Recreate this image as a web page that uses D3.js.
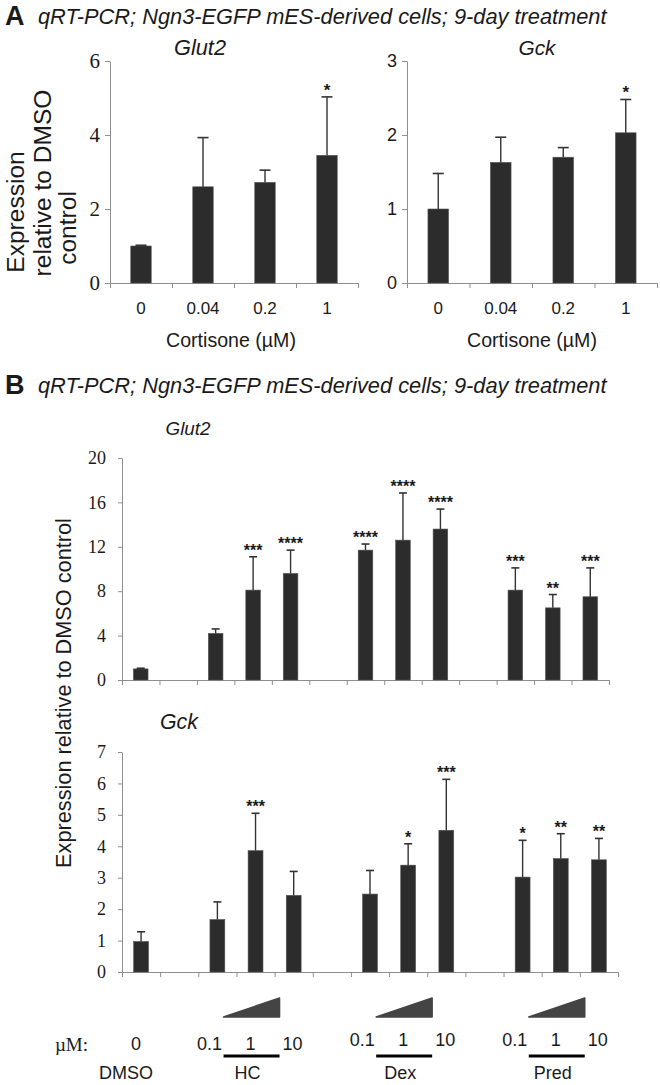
<!DOCTYPE html>
<html>
<head>
<meta charset="utf-8">
<script src="https://cdn.jsdelivr.net/npm/d3@7"></script>
<style>
html,body{margin:0;padding:0;background:#fff;}
text{fill:#1a1a1a;}
</style>
</head>
<body>
<svg id="chart" width="660" height="1085"></svg>
<script>
// ---------------- DATA ----------------
const aCategories = ["0", "0.04", "0.2", "1"];
const aGlut2 = [1.0, 2.6, 2.72, 3.45];
const aGlut2Err = [0.02, 1.33, 0.33, 1.58];
const aGlut2Sig = ["", "", "", "*"];
const aGlut2Ticks = [0, 2, 4, 6];
const aGck = [1.0, 1.63, 1.7, 2.03];
const aGckErr = [0.48, 0.34, 0.13, 0.45];
const aGckSig = ["", "", "", "*"];
const aGckTicks = [0, 1, 2, 3];

const bCategories = ["DMSO", "gap1", "HC 0.1", "HC 1", "HC 10", "gap2", "Dex 0.1", "Dex 1", "Dex 10", "gap3", "Pred 0.1", "Pred 1", "Pred 10"];
const bGlut2 = [1.0, null, 4.2, 8.1, 9.6, null, 11.7, 12.6, 13.6, null, 8.1, 6.5, 7.5];
const bGlut2Err = [0.06, null, 0.4, 3.0, 2.1, null, 0.55, 4.25, 1.8, null, 2.0, 1.2, 2.6];
const bGlut2Sig = ["", "", "", "***", "****", "", "****", "****", "****", "", "***", "**", "***"];
const bGlut2Ticks = [0, 4, 8, 12, 16, 20];
const bGck = [0.97, null, 1.67, 3.86, 2.44, null, 2.48, 3.4, 4.51, null, 3.02, 3.61, 3.57];
const bGckErr = [0.31, null, 0.56, 1.19, 0.76, null, 0.75, 0.68, 1.62, null, 1.17, 0.79, 0.68];
const bGckSig = ["", "", "", "***", "", "", "", "*", "***", "", "*", "**", "**"];
const bGckTicks = [0, 1, 2, 3, 4, 5, 6, 7];

const groupNames = ["DMSO", "HC", "Dex", "Pred"];
const groupCenterCats = ["DMSO", "HC 1", "Dex 1", "Pred 1"];
const doseLabels = ["0.1", "1", "10"];
const dmsoDose = "0";
const doseUnit = "µM:";

const titleText = "qRT-PCR; Ngn3-EGFP mES-derived cells; 9-day treatment";

// ---------------- HELPERS ----------------
const svg = d3.select("#chart");
const SANS = "'Liberation Sans', Arial, sans-serif";
const SERIF = "'Liberation Serif', 'Times New Roman', serif";
const AXIS = "#8f8f8f";
const BAR = "#2c2c2c";

function fit(sel, w) {
  const n = sel.node();
  const cur = n.getComputedTextLength();
  const fs = parseFloat(sel.style("font-size"));
  sel.style("font-size", (fs * w / cur) + "px");
  return sel;
}

function txt(x, y, s, o = {}) {
  const t = svg.append("text")
    .attr("x", x).attr("y", y)
    .attr("text-anchor", o.anchor || "middle")
    .attr("dominant-baseline", o.baseline || "central")
    .style("font-family", o.family || SANS)
    .style("font-size", (o.size || 17) + "px")
    .style("font-style", o.italic ? "italic" : "normal")
    .style("font-weight", o.bold ? "bold" : "normal")
    .text(s);
  if (o.rotate) t.attr("transform", `rotate(${o.rotate},${x},${y})`);
  if (o.width) fit(t, o.width);
  return t;
}

function barChart(cfg) {
  const g = svg.append("g");
  const n = cfg.cats.length;
  const x = d3.scaleBand().domain(cfg.cats).range(cfg.xRange).padding(0);
  const xEdge = d3.scaleLinear().domain([0, n]).range(cfg.xRange);
  const y = d3.scaleLinear().domain(cfg.yDomain).range(cfg.yRange);
  const bw = x.bandwidth() * cfg.barFrac;

  // y axis
  const ya = g.append("g").attr("transform", `translate(${cfg.xRange[0]},0)`)
    .call(d3.axisLeft(y).tickValues(cfg.ticks).tickFormat(d3.format("d"))
      .tickSize(cfg.tickLen).tickSizeOuter(0).tickPadding(cfg.tickPad));
  ya.select(".domain").attr("stroke", AXIS);
  ya.selectAll(".tick line").attr("stroke", AXIS);
  ya.selectAll(".tick text").style("font-family", cfg.tickFamily).style("font-size", cfg.tickSize + "px").attr("fill", "#1a1a1a");

  // x axis with boundary ticks
  const xa = g.append("g").attr("transform", `translate(0,${cfg.yRange[0]})`)
    .call(d3.axisBottom(xEdge).tickValues(d3.range(n + 1)).tickFormat("").tickSize(5).tickSizeOuter(0));
  xa.select(".domain").attr("stroke", AXIS);
  xa.selectAll(".tick line").attr("stroke", AXIS);

  const data = cfg.cats.map((c, i) => ({ c, v: cfg.values[i], e: cfg.errs[i], s: cfg.sig[i] })).filter(d => d.v != null);

  // bars
  g.selectAll("rect.bar").data(data).enter().append("rect")
    .attr("class", "bar")
    .attr("x", d => x(d.c) + (x.bandwidth() - bw) / 2)
    .attr("width", bw)
    .attr("y", d => y(d.v))
    .attr("height", d => y(0) - y(d.v))
    .attr("fill", BAR).attr("stroke", "#555").attr("stroke-width", 0.6);

  // error bars (upper only)
  const cx = d => x(d.c) + x.bandwidth() / 2;
  g.selectAll("line.err").data(data).enter().append("line")
    .attr("x1", cx).attr("x2", cx)
    .attr("y1", d => y(d.v)).attr("y2", d => y(d.v + d.e))
    .attr("stroke", "#333").attr("stroke-width", 1.4);
  g.selectAll("line.cap").data(data).enter().append("line")
    .attr("x1", d => cx(d) - cfg.cap / 2).attr("x2", d => cx(d) + cfg.cap / 2)
    .attr("y1", d => y(d.v + d.e)).attr("y2", d => y(d.v + d.e))
    .attr("stroke", "#333").attr("stroke-width", 1.6);

  // significance stars
  g.selectAll("text.sig").data(data.filter(d => d.s)).enter().append("text")
    .attr("x", cx).attr("y", d => y(d.v + d.e) - cfg.starGap)
    .attr("text-anchor", "middle")
    .style("font-family", SANS).style("font-size", cfg.starSize + "px").style("font-weight", "bold")
    .text(d => d.s);

  return { x, y };
}

// ---------------- PANEL A ----------------
txt(5, 16, "A", { anchor: "start", size: 27, bold: true });
txt(38, 16, titleText, { anchor: "start", size: 20, italic: true, width: 569 });

const yTitleA = ["Expression", "relative to DMSO", "control"];
const tmp = txt(42, 183, yTitleA[1], { size: 19, rotate: -90, width: 187 });
const fsA = parseFloat(tmp.style("font-size"));
txt(15, 212, yTitleA[0], { size: fsA, rotate: -90 });
txt(67, 228, yTitleA[2], { size: fsA, rotate: -90 });

const aCommon = { cats: aCategories, yRange: [283, 61], barFrac: 0.33, tickLen: 5, cap: 11, starGap: 1, starSize: 17 };
const A1 = barChart(Object.assign({}, aCommon, {
  xRange: [110, 358], yDomain: [0, 6], values: aGlut2, errs: aGlut2Err, sig: aGlut2Sig,
  ticks: aGlut2Ticks, tickPad: 5, tickFamily: SERIF, tickSize: 21
}));
const A2 = barChart(Object.assign({}, aCommon, {
  xRange: [407, 657], yDomain: [0, 3], values: aGck, errs: aGckErr, sig: aGckSig,
  ticks: aGckTicks, tickPad: 5, tickFamily: SANS, tickSize: 18
}));
txt(200, 47, "Glut2", { size: 19, italic: true, width: 52 });
txt(537, 47, "Gck", { size: 19, italic: true, width: 37 });
[A1, A2].forEach(ch => {
  aCategories.forEach(c => txt(ch.x(c) + ch.x.bandwidth() / 2, 308, c, { size: 17 }));
});
txt(231, 340, "Cortisone (µM)", { size: 17, width: 130 });
txt(532, 340, "Cortisone (µM)", { size: 17, width: 130 });

// ---------------- PANEL B ----------------
txt(5, 385, "B", { anchor: "start", size: 27, bold: true });
txt(38, 385, titleText, { anchor: "start", size: 20, italic: true, width: 569 });
txt(63, 693, "Expression relative to DMSO control", { size: 19, rotate: -90, width: 350 });

const bCommon = { cats: bCategories, barFrac: 0.39, tickLen: 4, tickPad: 12, tickFamily: SERIF, tickSize: 18, cap: 8, starGap: 1, starSize: 16 };
const B1 = barChart(Object.assign({}, bCommon, {
  xRange: [122, 609], yRange: [680, 458], yDomain: [0, 20], values: bGlut2, errs: bGlut2Err, sig: bGlut2Sig, ticks: bGlut2Ticks
}));
const B2 = barChart(Object.assign({}, bCommon, {
  xRange: [122, 618], yRange: [972, 752], yDomain: [0, 7], values: bGck, errs: bGckErr, sig: bGckSig, ticks: bGckTicks
}));
txt(188, 428, "Glut2", { size: 19, italic: true, width: 45 });
txt(179, 722, "Gck", { size: 19, italic: true, width: 38 });

// ---------------- DOSE / GROUP LABELS ----------------
const gx = B2.x;
const centerOf = c => gx(c) + gx.bandwidth() / 2;
txt(88, 1044, doseUnit, { anchor: "end", family: SERIF, size: 19 });
txt(centerOf("DMSO") - 5, 1044, dmsoDose, { size: 18 });
txt(centerOf("DMSO") - 15, 1073, groupNames[0], { size: 18 });
const doseOffsets = [-46, -5, 37];
groupCenterCats.slice(1).forEach((c, gi) => {
  const cx = centerOf(c);
  const dy = gi === 0 ? 1044 : 1040;
  doseLabels.forEach((d, i) => txt(cx + doseOffsets[i], dy, d, { size: 18 }));
  // rising-dose wedge
  svg.append("path")
    .attr("d", `M${cx - 32},1017 L${cx + 24},998 L${cx + 24},1017 Z`)
    .attr("fill", "#444").attr("stroke", "#444").attr("stroke-width", 1.5).attr("stroke-linejoin", "round");
  svg.append("line").attr("x1", cx - 32).attr("x2", cx + 24).attr("y1", 1056).attr("y2", 1056)
    .attr("stroke", "#000").attr("stroke-width", 3);
  txt(cx - 8, 1073, groupNames[gi + 1], { size: 18 });
});
</script>
</body>
</html>
